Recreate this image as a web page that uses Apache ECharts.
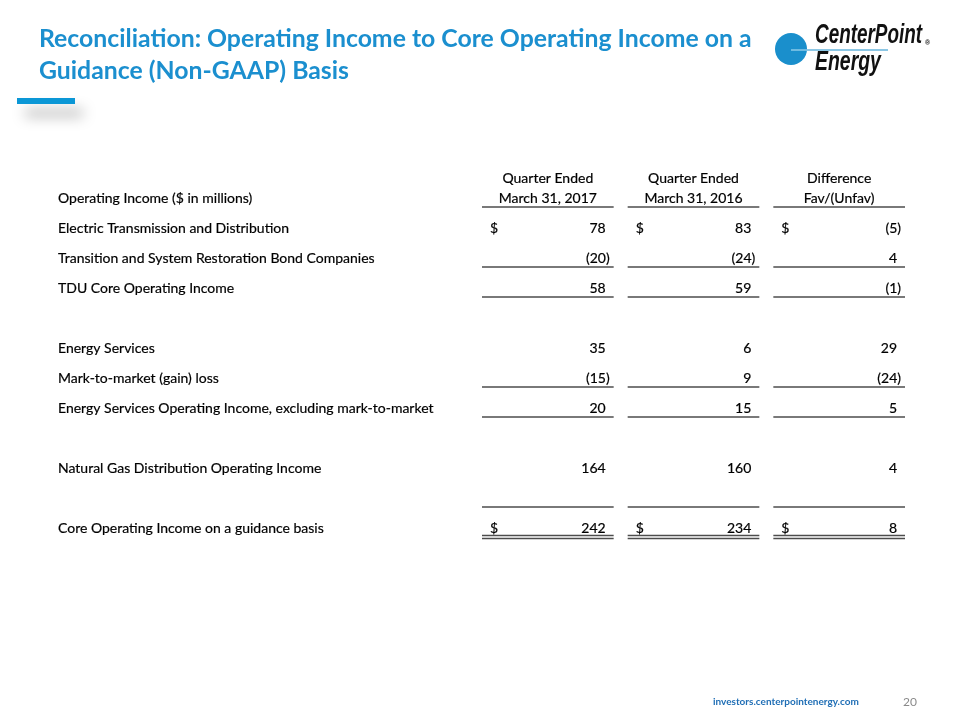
<!DOCTYPE html>
<html><head><meta charset="utf-8">
<script src="https://cdn.jsdelivr.net/npm/echarts@6/dist/echarts.min.js"></script>
<style>html,body{margin:0;padding:0;background:#fff}#c{width:960px;height:720px}</style>
</head><body><div id="c"></div>
<script>
// ---- data ----
const rowLabels = [
  "Operating Income ($ in millions)",
  "Electric Transmission and Distribution",
  "Transition and System Restoration Bond Companies",
  "TDU Core Operating Income",
  "",
  "Energy Services",
  "Mark-to-market (gain) loss",
  "Energy Services Operating Income, excluding mark-to-market",
  "",
  "Natural Gas Distribution Operating Income",
  "",
  "Core Operating Income on a guidance basis"
];
const columns = ["Q1 2017", "Q1 2016", "Difference"];
const colHeaders = ["Quarter Ended\nMarch 31, 2017", "Quarter Ended\nMarch 31, 2016", "Difference\nFav/(Unfav)"];
const q2017 = [null, 78, -20, 58, null, 35, -15, 20, null, 164, null, 242];
const q2016 = [null, 83, -24, 59, null, 6, 9, 15, null, 160, null, 234];
const diffs = [null, -5, 4, -1, null, 29, -24, 5, null, 4, null, 8];
const dollarRows = [1, 11];
const underlineRows = [0, 2, 3, 6, 7, 10];
const doubleUnderlineRows = [11];

const FONT = 'Lato, "Open Sans", sans-serif';
const colValues = [q2017, q2016, diffs];

const cells = [];
for (let c = 0; c < columns.length; c++) {
  for (let r = 0; r < rowLabels.length; r++) {
    cells.push({
      value: [c, r, colValues[c][r] == null ? '-' : colValues[c][r]],
      header: r === 0 ? colHeaders[c] : null,
      dollar: dollarRows.indexOf(r) >= 0,
      line: underlineRows.indexOf(r) >= 0 ? 1 : (doubleUnderlineRows.indexOf(r) >= 0 ? 2 : 0)
    });
  }
}
function fmt(v) { return v < 0 ? '(' + Math.abs(v) + ')' : String(v); }

const chart = echarts.init(document.getElementById('c'), null, {renderer: 'canvas'});
const LINE = '#4d4d4d';
const TB = 0.2; // slight text thickening
const txt = (o) => Object.assign({fill: '#000', font: '14px ' + FONT, stroke: '#000', lineWidth: TB}, o);
chart.setOption({
  backgroundColor: '#ffffff',
  animation: false,
  grid: {left: 480, right: 43, top: 183, bottom: 177, containLabel: false},
  xAxis: {type: 'category', data: columns, show: false},
  yAxis: {
    type: 'category', data: rowLabels, inverse: true,
    axisLine: {show: false}, axisTick: {show: false}, splitLine: {show: false},
    axisLabel: {interval: 0, align: 'left', margin: 422, color: '#000', fontSize: 14, fontFamily: FONT,
      textBorderColor: '#000', textBorderWidth: TB}
  },
  series: [{
    type: 'custom',
    data: cells,
    renderItem: function (params, api) {
      const cell = cells[params.dataIndex];
      const c = api.value(0), r = api.value(1);
      const p = api.coord([c, r]);
      const bw = api.size([1, 0])[0];
      const x0 = p[0] - bw / 2, x1 = p[0] + bw / 2;
      const lx0 = x0 + 2, lx1 = x1 - 12;
      const ch = [];
      if (cell.header) {
        ch.push({type: 'text', style: txt({text: cell.header, x: (lx0 + lx1) / 2, y: p[1] - 10,
          align: 'center', verticalAlign: 'middle', lineHeight: 20})});
      }
      const v = colValues[c][r];
      if (v != null) {
        ch.push({type: 'text', style: txt({text: fmt(v), x: v < 0 ? lx1 - 4 : lx1 - 8, y: p[1],
          align: 'right', verticalAlign: 'middle'})});
        if (cell.dollar) {
          ch.push({type: 'text', style: txt({text: '$', x: lx0 + 8, y: p[1],
            align: 'left', verticalAlign: 'middle'})});
        }
      }
      if (cell.line === 1) {
        ch.push({type: 'line', shape: {x1: lx0, y1: p[1] + 9, x2: lx1, y2: p[1] + 9},
          style: {stroke: LINE, lineWidth: 1.7}});
      } else if (cell.line === 2) {
        ch.push({type: 'line', shape: {x1: lx0, y1: p[1] + 7.5, x2: lx1, y2: p[1] + 7.5},
          style: {stroke: LINE, lineWidth: 1.5}});
        ch.push({type: 'line', shape: {x1: lx0, y1: p[1] + 10.5, x2: lx1, y2: p[1] + 10.5},
          style: {stroke: LINE, lineWidth: 1.5}});
      }
      return {type: 'group', children: ch};
    }
  }],
  graphic: [
    {type: 'text', x: 39, y: 39, style: {text: 'Reconciliation: Operating Income to Core Operating Income on a',
      font: 'bold 24.8px ' + FONT, fill: '#1b8fcf', verticalAlign: 'middle'}},
    {type: 'text', x: 39, y: 71, style: {text: 'Guidance (Non-GAAP) Basis',
      font: 'bold 24.8px ' + FONT, fill: '#1b8fcf', verticalAlign: 'middle'}},
    {type: 'rect', shape: {x: 17, y: 98, width: 58, height: 6},
      style: {fill: '#0b97d6', shadowBlur: 14, shadowColor: 'rgba(0,0,0,0.35)', shadowOffsetX: 8, shadowOffsetY: 12}},
    {type: 'circle', shape: {cx: 791, cy: 49, r: 16}, style: {fill: '#1a8fcc'}},
    {type: 'line', shape: {x1: 791, y1: 50, x2: 807, y2: 50}, style: {stroke: '#a8d8f0', lineWidth: 1.2}},
    {type: 'line', shape: {x1: 807, y1: 50, x2: 888, y2: 50}, style: {stroke: '#1a8fcc', lineWidth: 1.2}},
    {type: 'text', x: 815, y: 36, scaleX: 0.7, style: {text: 'CenterPoint', font: 'italic bold 27px "Liberation Sans", Arial, sans-serif',
      fill: '#111', verticalAlign: 'middle'}},
    {type: 'text', x: 925, y: 43, style: {text: '®', font: 'bold 7px "Liberation Sans"', fill: '#111', verticalAlign: 'middle'}},
    {type: 'text', x: 815, y: 63, scaleX: 0.72, style: {text: 'Energy', font: 'italic bold 27px "Liberation Sans", Arial, sans-serif',
      fill: '#111', verticalAlign: 'middle'}},
    {type: 'text', x: 713, y: 702, style: {text: 'investors.centerpointenergy.com', font: 'bold 10px ' + FONT,
      fill: '#1f6eb5', verticalAlign: 'middle'}},
    {type: 'text', x: 903, y: 702, style: {text: '20', font: '12px ' + FONT, fill: '#8a8a8a', verticalAlign: 'middle'}}
  ]
});
</script></body></html>
